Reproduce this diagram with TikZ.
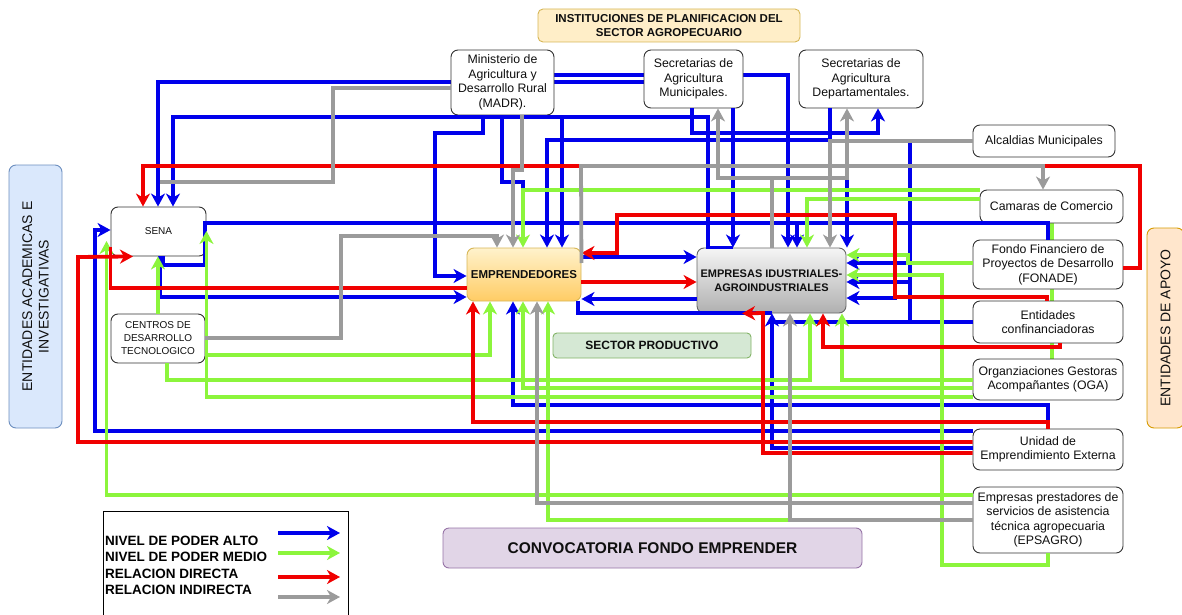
\documentclass[tikz,border=0pt]{standalone}
\usepackage{fontspec}
\setmainfont{Liberation Sans}
\usetikzlibrary{arrows.meta,backgrounds}
\definecolor{cBlue}{RGB}{0,0,235}
\definecolor{cGreen}{RGB}{140,245,60}
\definecolor{cRed}{RGB}{240,0,0}
\definecolor{cGray}{RGB}{155,155,155}
\definecolor{acadF}{RGB}{218,232,252}
\definecolor{acadD}{RGB}{108,142,191}
\definecolor{apoF}{RGB}{255,230,204}
\definecolor{apoD}{RGB}{215,155,0}
\definecolor{instF}{RGB}{255,238,200}
\definecolor{instD}{RGB}{214,182,86}
\definecolor{spF}{RGB}{213,232,212}
\definecolor{spD}{RGB}{130,179,102}
\definecolor{cvF}{RGB}{225,213,231}
\definecolor{cvD}{RGB}{150,115,166}
\definecolor{emT}{RGB}{255,242,204}
\definecolor{emB}{RGB}{255,204,100}
\definecolor{giT}{RGB}{245,245,245}
\definecolor{giB}{RGB}{176,176,176}
\definecolor{boxD}{RGB}{50,50,50}
\tikzset{
  base/.style={rounded corners=7pt, line width=0.9pt, align=center, inner sep=0pt, text={rgb,255:red,15;green,15;blue,15}},
  wbox/.style={base, draw=boxD, fill=white, font=\fontsize{12.3}{14.5}\selectfont},
  sbox/.style={base, draw=boxD, fill=white, font=\fontsize{10}{13}\selectfont},
  con/.style={line width=3.8pt},
  bl/.style={con, draw=cBlue},
  gr/.style={con, draw=cGreen},
  rd/.style={con, draw=cRed},
  gy/.style={con, draw=cGray},
  arr/.style={-{Stealth[length=13pt,width=14pt,inset=4pt]}},
  legtxt/.style={anchor=base west, inner sep=0pt, font=\bfseries\fontsize{13.5}{16}\selectfont}
}
\begin{document}
\begin{tikzpicture}[x=1pt,y=-1pt]
\useasboundingbox (0,0) rectangle (1182,615);

% ---------- nodes ----------
\node[base, rotate=90, draw=acadD, fill=acadF, minimum width=263pt, minimum height=53pt,
      font=\fontsize{14}{16.5}\selectfont] (acad) at (35.5,296.5) {ENTIDADES ACADEMICAS E\\INVESTIGATIVAS};
\node[base, rotate=90, draw=apoD, fill=apoF, minimum width=200pt, minimum height=37pt,
      font=\fontsize{14}{16.5}\selectfont] (apoyo) at (1165.5,328) {ENTIDADES DE APOYO};
\node[base, draw=instD, fill=instF, minimum width=262pt, minimum height=33pt,
      font=\bfseries\fontsize{11.5}{14}\selectfont, rounded corners=5pt] (inst) at (669,25.5)
      {INSTITUCIONES DE PLANIFICACION DEL\\SECTOR AGROPECUARIO};
\node[wbox, minimum width=103pt, minimum height=65pt] (madr) at (502.5,82.5) {Ministerio de\\Agricultura y\\Desarrollo Rural\\(MADR).};
\node[wbox, minimum width=99pt, minimum height=58pt] (secm) at (693.5,79) {Secretarias de\\Agricultura\\Municipales.};
\node[wbox, minimum width=124pt, minimum height=58pt] (secd) at (861,79) {Secretarias de\\Agricultura\\Departamentales.};
\node[wbox, minimum width=142pt, minimum height=32pt] (alc) at (1044,141) {Alcaldias Municipales};
\node[wbox, minimum width=143pt, minimum height=33pt] (cam) at (1051.5,206.5) {Camaras de Comercio};
\node[wbox, minimum width=150pt, minimum height=49pt] (fon) at (1048,264.5) {Fondo Financiero de\\Proyectos de Desarrollo\\(FONADE)};
\node[wbox, minimum width=150pt, minimum height=42pt] (ent) at (1048,322) {Entidades\\confinanciadoras};
\node[wbox, minimum width=150pt, minimum height=41pt] (oga) at (1048,379.5) {Organziaciones Gestoras\\Acompañantes (OGA)};
\node[wbox, minimum width=150pt, minimum height=41pt] (ude) at (1048,449.5) {Unidad de\\Emprendimiento Externa};
\node[wbox, minimum width=150pt, minimum height=66pt] (eps) at (1048,520) {Empresas prestadores de\\servicios de asistencia\\técnica agropecuaria\\(EPSAGRO)};
\node[sbox, minimum width=95pt, minimum height=49pt] (sena) at (158.5,231.5) {SENA};
\node[sbox, minimum width=94pt, minimum height=49pt] (cdt) at (158,338.5) {CENTROS DE\\DESARROLLO\\TECNOLOGICO};
\node[base, draw=instD, top color=emT, bottom color=emB, minimum width=114pt, minimum height=53pt,
      font=\bfseries\fontsize{11.5}{13.5}\selectfont] (empr) at (524,274.5) {EMPRENDEDORES};
\node[base, draw={rgb,255:red,102;green,102;blue,102}, top color=giT, bottom color=giB, minimum width=149pt, minimum height=65pt,
      font=\bfseries\fontsize{11}{13.5}\selectfont] (empi) at (771.5,280.5) {EMPRESAS IDUSTRIALES-\\AGROINDUSTRIALES};
\node[base, draw=spD, fill=spF, minimum width=198pt, minimum height=25pt, rounded corners=4pt,
      font=\bfseries\fontsize{12}{14}\selectfont] (sp) at (652,345.5) {SECTOR PRODUCTIVO};
\node[base, draw=cvD, fill=cvF, minimum width=419pt, minimum height=40pt, rounded corners=6pt,
      font=\bfseries\fontsize{15.5}{18}\selectfont] (conv) at (652.5,548) {CONVOCATORIA FONDO EMPRENDER};

% legend
\node[draw=black, line width=0.9pt, minimum width=245pt, minimum height=115pt, inner sep=0pt, anchor=north west] (leg) at (103,511) {};
\node[legtxt] (l1) at (105,545) {NIVEL DE PODER ALTO};
\node[legtxt] (l2) at (105,561.5) {NIVEL DE PODER MEDIO};
\node[legtxt] (l3) at (105,578) {RELACION DIRECTA};
\node[legtxt] (l4) at (105,594.5) {RELACION INDIRECTA};
\coordinate (la1) at (278,533); \coordinate (lb1) at (340,533);
\coordinate (la2) at (278,553); \coordinate (lb2) at (340,553);
\coordinate (la3) at (278,577); \coordinate (lb3) at (340,577);
\coordinate (la4) at (278,597); \coordinate (lb4) at (340,597);
\draw[bl,arr] (la1) -- (lb1);
\draw[gr,arr] (la2) -- (lb2);
\draw[rd,arr] (la3) -- (lb3);
\draw[gy,arr] (la4) -- (lb4);

% ---------- connectors passing behind boxes ----------
\begin{scope}[on background layer]
\draw[bl,arr] (secm.west |- 0,82) -| (sena.north -| 158,0);
\draw[bl,arr] (madr.east |- 0,75) -| (empi.north -| 788,0);
\draw[gr] (cam.south -| 1052,0) -- (oga.north -| 1052,0);
\end{scope}

% ---------- blue ----------
\draw[bl,arr] (empi.north -| 733,0) -- (empi.north -| 708,0) -- (708,117) -| (sena.north -| 173,0);
\draw[bl,arr] (708,117) -| (empr.north -| 562,0);
\draw[bl,arr] (madr.south -| 483,0) -- (483,133) -| (435,276) -- (empr.west |- 0,276);
\draw[bl] (madr.south -| 502,0) -- (502,182) -- (523,182) -- (523,190);
\draw[bl,arr] (secm.south -| 692,0) -- (692,133) -| (secd.south -| 878,0);
\draw[bl,arr] (847,133) -- (empi.north -| 847,0);
\draw[bl,arr] (secm.south -| 733,0) -- (empi.north -| 733,0);
\draw[bl,arr] (secd.south -| 830,0) -- (830,140) -| (empr.north -| 547,0);
\draw[bl] (ent.west |- 0,322) -- (910,322) -- (910,143);
\draw[bl,arr] (910,263) -- (empi.east |- 0,263);
\draw[bl,arr] (910,282) -- (empi.east |- 0,282);
\draw[bl] (910,322) -- (772,322);
\draw[bl,arr] (ude.west |- 0,448) -| (empi.south -| 772,0);
\draw[bl] (772,313) -| (empr.south -| 578,0);
\draw[bl,arr] (empi.west |- 0,299) -- (empr.east |- 0,299);
\draw[bl,arr] (empr.east |- 0,257) -- (empi.west |- 0,257);
\draw[bl,arr] (sena.south -| 163,0) -- (163,265) -- (205,265) -- (205,223) -| (empi.north -| 797,0);
\draw[bl] (fon.north -| 1048,0) -- (1048,223) -- (797,223);
\draw[bl,arr] (895,223) -- (895,298) -- (empi.east |- 0,298);
\draw[bl,arr] (ude.north -| 1048,0) -- (1048,405) -| (empr.south -| 513,0);
\draw[bl,arr] (ude.west |- 0,431) -| (95,230) -- (sena.west |- 0,230);
\draw[bl,arr] (sena.south -| 160,0) -- (160,297) -- (empr.west |- 0,297);

% ---------- green ----------
\draw[gr,arr] (cam.west |- 0,190) -| (empr.north -| 523,0);
\draw[gr,arr] (cam.west |- 0,199) -| (empi.north -| 807,0);
\draw[gr,arr] (fon.west |- 0,263) -- (908,263) -- (908,255) -- (empi.east |- 0,255);
\draw[gr,arr] (eps.south -| 1048,0) -- (1048,565) -- (942,565) -- (942,275) -- (empi.east |- 0,275);
\draw[gr,arr] (cdt.east |- 0,355) -| (empr.south -| 490,0);
\draw[gr,arr] (cdt.south -| 167,0) -- (167,380) -| (empi.south -| 810,0);
\draw[gr,arr] (oga.west |- 0,380) -| (empi.south -| 842,0);
\draw[gr,arr] (oga.west |- 0,388) -| (empr.south -| 523,0);
\draw[gr,arr] (oga.west |- 0,397) -| (sena.east |- 0,231);
\draw[gr,arr] (eps.west |- 0,495) -| ([xshift=-4pt]sena.west |- 0,241);
\draw[gr,arr] (cdt.north -| 158,0) -- (sena.south -| 158,0);
\draw[gr,arr] (eps.west |- 0,520) -| (empr.south -| 548,0);

% ---------- red ----------
\draw[rd,arr] (fon.east |- 0,268) -- (1140,268) -- (1140,166) -| (sena.north -| 143,0);
\draw[rd,arr] (ent.north -| 1047,0) -- (1047,297) -- (895,297) -- (895,215) -- (617,215) -- (617,253) -- (empr.east |- 0,253);
\draw[rd,arr] (empr.east |- 0,282) -- (empi.west |- 0,282);
\draw[rd] (sena.west |- 0,247) |- (empr.west |- 0,288);
\draw[rd,arr] (ude.west |- 0,442) -| (78,257) -- (sena.south -| 133,0);
\draw[rd,arr] (ude.north -| 1048,0) -- (1048,422) -| (empr.south -| 473,0);
\draw[rd,arr] (ude.west |- 0,453) -| (763,313) -- (empi.south -| 742,0);
\draw[rd,arr] (ent.south -| 1060,0) -- (1060,347) -| (empi.south -| 823,0);

% ---------- gray ----------
\draw[gy] (madr.west |- 0,88) -| (333,182) -- (160,182);
\draw[gy,arr] (madr.south -| 522,0) -- (522,170) -- (513,170) -- (empr.north -| 513,0);
\draw[gy,arr] (cdt.east |- 0,338) -| (341,236) -| (empr.north -| 497,0);
\draw[gy,arr] (empr.east |- 0,263) -- (581,166) -| (cam.north -| 1043,0);
\draw[gy,arr] (empi.north -| 772,0) -- (772,178) -| (secm.south -| 718,0);
\draw[gy,arr] (772,178) -| (secd.south -| 847,0);
\draw[gy,arr] (alc.west |- 0,141) -| (empi.north -| 830,0);
\draw[gy,arr] (eps.west |- 0,503) -| (empr.south -| 537,0);
\draw[gy,arr] (eps.west |- 0,520) -| (empi.south -| 790,0);
\end{tikzpicture}
\end{document}
